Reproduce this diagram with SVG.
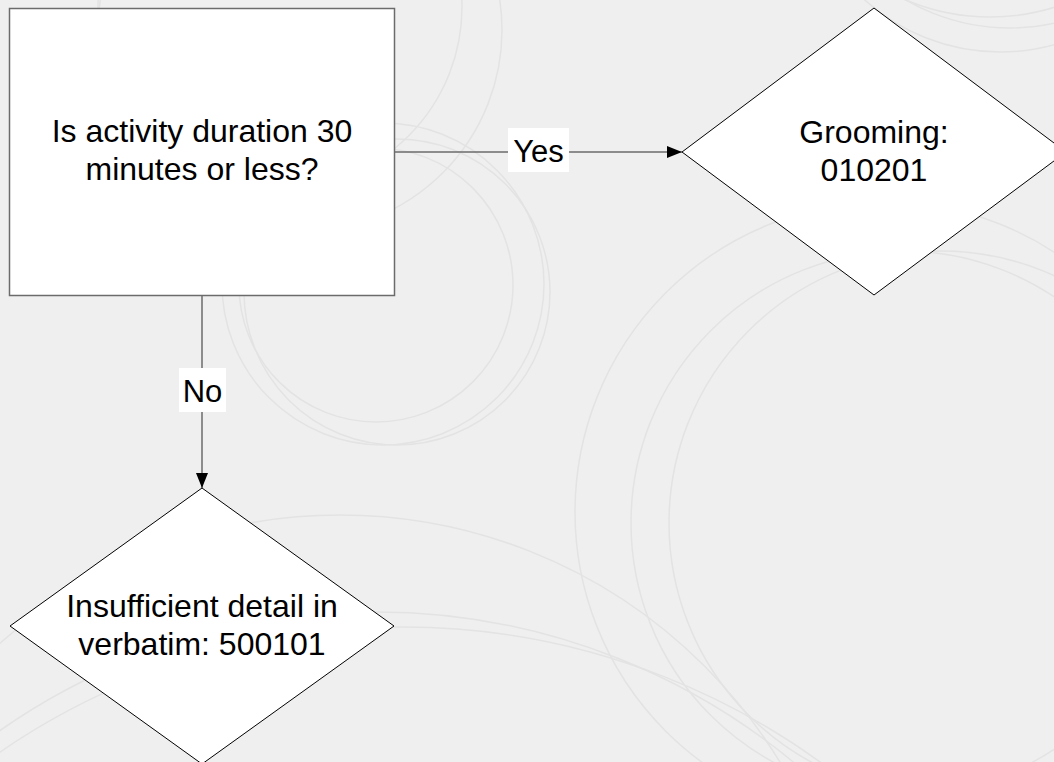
<svg xmlns="http://www.w3.org/2000/svg" width="1054" height="762" viewBox="0 0 1054 762">
  <defs>
    <style>
      .bg { fill: #efefef; }
      .deco { fill: none; stroke: #e3e3e3; stroke-width: 1.5; }
      .box { fill: #ffffff; stroke: #6b6b6b; stroke-width: 1.5; }
      .dia { fill: #ffffff; stroke: #000000; stroke-width: 1; }
      .edge { fill: none; stroke: #6b6b6b; stroke-width: 1.5; }
      .lblbg { fill: #ffffff; }
      .t { font-family: "Liberation Sans", Arial, sans-serif; font-size: 32px; fill: #000000; text-anchor: middle; }
      .lt { font-family: "Liberation Sans", Arial, sans-serif; font-size: 31px; fill: #000000; text-anchor: middle; }
    </style>
    <marker id="arrow" viewBox="0 0 15 12" refX="15" refY="6" markerWidth="15" markerHeight="12" markerUnits="userSpaceOnUse" orient="auto">
      <path d="M0,0 L15,6 L0,12 Z" fill="#000000"/>
    </marker>
  </defs>

  <rect class="bg" x="0" y="0" width="1054" height="762"/>

  <g id="background-circles">
    <circle class="deco" cx="376" cy="285" r="137"/>
    <circle class="deco" cx="383" cy="284" r="161"/>
    <circle class="deco" cx="397" cy="292" r="153"/>
    <circle class="deco" cx="280" cy="7" r="182"/>
    <circle class="deco" cx="300" cy="30" r="202"/>
    <circle class="deco" cx="885" cy="512" r="310"/>
    <circle class="deco" cx="903" cy="523" r="272"/>
    <circle class="deco" cx="941" cy="523" r="272"/>
    <circle class="deco" cx="340" cy="1030" r="515"/>
    <circle class="deco" cx="376" cy="1267" r="655"/>
    <circle class="deco" cx="403" cy="1338" r="711"/>
    <circle class="deco" cx="1000" cy="-150" r="202"/>
    <circle class="deco" cx="1010" cy="-180" r="208"/>
    <circle class="deco" cx="990" cy="-200" r="217"/>
  </g>

  <g id="connectors">
    <g id="edge-yes">
      <line class="edge" x1="394" y1="152" x2="682" y2="152" marker-end="url(#arrow)"/>
      <rect class="lblbg" x="508" y="128" width="61" height="44"/>
      <text class="lt" x="538.5" y="162">Yes</text>
    </g>
    <g id="edge-no">
      <line class="edge" x1="202" y1="295" x2="202" y2="488" marker-end="url(#arrow)"/>
      <rect class="lblbg" x="179" y="368" width="47" height="44"/>
      <text class="lt" x="202.5" y="402">No</text>
    </g>
  </g>

  <g id="node-question">
    <rect class="box" x="9.5" y="8.5" width="385" height="287"/>
    <text class="t" x="202" y="142">Is activity duration 30</text>
    <text class="t" x="202" y="180">minutes or less?</text>
  </g>

  <g id="node-grooming">
    <polygon class="dia" points="874,8 1066,152 874,295 682,152"/>
    <text class="t" x="874" y="143">Grooming:</text>
    <text class="t" x="874" y="181">010201</text>
  </g>

  <g id="node-insufficient">
    <polygon class="dia" points="202,488 394,626 202,764 10,626"/>
    <text class="t" x="202" y="617">Insufficient detail in</text>
    <text class="t" x="202" y="655">verbatim: 500101</text>
  </g>
</svg>
